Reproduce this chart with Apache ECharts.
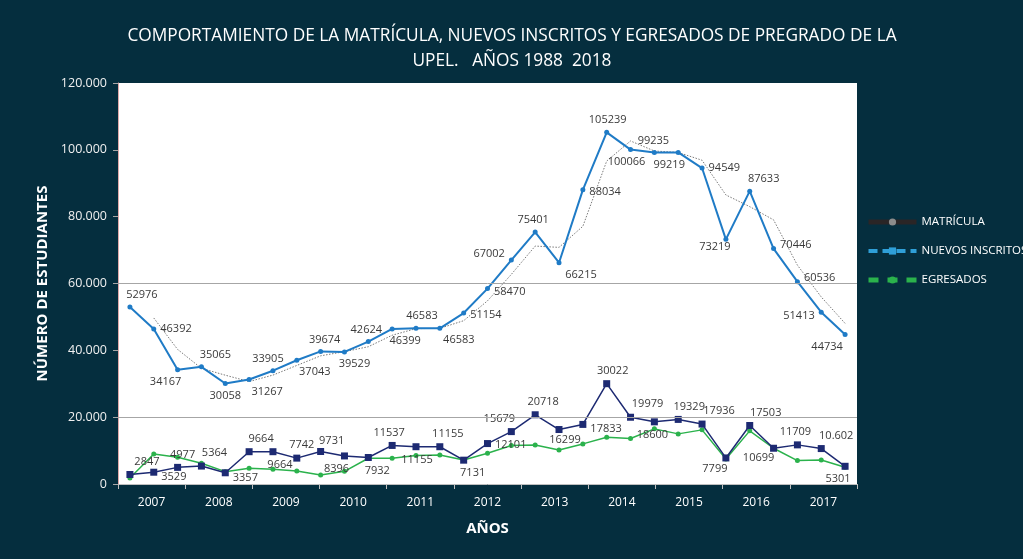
<!DOCTYPE html>
<html>
<head>
<meta charset="utf-8">
<script src="https://cdn.jsdelivr.net/npm/echarts@6/dist/echarts.min.js"></script>
<style>
  html, body { margin: 0; padding: 0; background: #052e3e; }
  #chart { width: 1023px; height: 559px; }
</style>
</head>
<body>
<div id="chart"></div>
<script>
// Years 1988 - 2018, one point per year
const years = ['1988','1989','1990','1991','1992','1993','1994','1995','1996','1997','1998','1999','2000','2001','2002','2003','2004','2005','2006','2007','2008','2009','2010','2011','2012','2013','2014','2015','2016','2017','2018'];
// Category labels shown under the axis
const axisYears = ['2007','2008','2009','2010','2011','2012','2013','2014','2015','2016','2017'];

const matricula = [52976,46392,34167,35065,30058,31267,33905,37043,39674,39529,42624,46399,46583,46583,51154,58470,67002,75401,66215,88034,105239,100066,99235,99219,94549,73219,87633,70446,60536,51413,44734];
const nuevosInscritos = [2847,3529,4977,5364,3357,9664,9664,7742,9731,8396,7932,11537,11155,11155,7131,12101,15679,20718,16299,17833,30022,19979,18600,19329,17936,7799,17503,10699,11709,10602,5301];
const egresados = [1800,9000,8000,6200,3700,4700,4400,3900,2700,3800,7700,7700,8500,8700,7200,9200,11500,11700,10200,12000,14000,13600,16500,15000,16200,7500,15900,10700,7000,7200,5000];
// Two-period moving average of the enrolment line
const tendencia = [null,49684,40280,34616,32562,30663,32586,35474,38359,39602,41077,44512,46491,46583,48869,54812,62736,71202,70808,77125,96637,102653,99651,99227,96884,86500,83000,79040,65491,55975,48074];
const yTicks = [0, 20000, 40000, 60000, 80000, 100000, 120000];
const refLines = [20000, 60000];

// Label placement: [position, dx, dy]
const matriculaLabelPos = [
  ['top',12,0],['right',0,0],['bottom',-12,0],['top',14,0],['bottom',0,0],['bottom',18,0],
  ['top',-5,0],['bottom',18,0],['top',4,0],['bottom',10,0],['top',-2,0],['bottom',13,0],
  ['top',6,0],['bottom',19,0],['right',0,2],['right',0,3],['left',0,-6],['top',-2,0],
  ['bottom',22,0],['right',0,2],['top',1,0],['bottom',-4,0],['top',-1,0],['bottom',-9,0],
  ['right',0,0],['bottom',-11,-4],['top',14,0],['right',0,-4],['right',0,-4],['left',0,4],['bottom',-18,0]
];
const nuevosLabelPos = [
  ['top',17,0],['right',0,5],['top',5,0],['top',13,0],['right',0,5],['top',12,0],
  ['bottom',7,0],['top',5,0],['top',11,2],['bottom',-8,0],['bottom',9,0],['top',-3,0],
  ['bottom',1,0],['top',8,0],['bottom',9,0],['right',0,1],['top',-12,0],['top',8,0],
  ['bottom',6,-3],['right',0,4],['top',6,0],['top',17,0],['bottom',-2,0],['top',11,0],
  ['top',17,0],['bottom',-11,-2],['top',16,0],['bottom',-15,-3],['top',-2,0],['top',15,0],['bottom',-7,0]
];
// Points whose label is written with a thousands separator
const dottedLabelIdx = [29];

const fontFamily = '"Open Sans", "Noto Sans", sans-serif';
const thousands = v => String(v).replace(/\B(?=(\d{3})+(?!\d))/g, '.');

function withLabels(values, placement, formatter) {
  return values.map((v, i) => ({
    value: v,
    label: {
      position: placement[i][0],
      offset: [placement[i][1], placement[i][2]],
      formatter: formatter ? formatter(v, i) : String(v)
    }
  }));
}

const labelStyle = {
  show: true,
  color: '#3a3a3a',
  fontSize: 11,
  fontFamily: fontFamily,
  distance: 4
};

const chart = echarts.init(document.getElementById('chart'), null, { renderer: 'canvas' });

chart.setOption({
  backgroundColor: '#052e3e',
  animation: false,
  title: {
    text: 'COMPORTAMIENTO DE LA MATRÍCULA, NUEVOS INSCRITOS Y EGRESADOS DE PREGRADO DE LA\nUPEL.   AÑOS 1988  2018',
    left: 507,
    top: 19,
    textAlign: 'center',
    textStyle: {
      color: '#ffffff',
      fontSize: 17.3,
      fontWeight: 'normal',
      fontFamily: fontFamily,
      lineHeight: 25
    }
  },
  legend: {
    orient: 'vertical',
    left: 866,
    top: 216,
    padding: 0,
    itemWidth: 48,
    itemHeight: 9,
    itemGap: 17,
    textStyle: { color: '#ffffff', fontSize: 11.5, fontFamily: fontFamily },
    data: [
      { name: 'MATRÍCULA', itemStyle: { color: '#8c8c8c' }, lineStyle: { color: '#2a2526', width: 5, type: 'solid' } },
      { name: 'NUEVOS INSCRITOS', itemStyle: { color: '#2f9fd8' }, lineStyle: { color: '#2f9fd8', width: 4, type: [9, 5] } },
      { name: 'EGRESADOS', itemStyle: { color: '#2bb24c' }, lineStyle: { color: '#2bb24c', width: 5, type: [10, 9] } }
    ]
  },
  grid: {
    left: 118,
    right: 166,
    top: 83,
    bottom: 75,
    show: true,
    backgroundColor: '#ffffff',
    borderWidth: 0
  },
  xAxis: [
    {
      type: 'category',
      data: years,
      position: 'bottom',
      boundaryGap: true,
      show: false
    },
    {
      type: 'category',
      data: axisYears,
      position: 'bottom',
      boundaryGap: true,
      name: 'AÑOS',
      nameLocation: 'middle',
      nameGap: 37,
      nameTextStyle: { color: '#ffffff', fontSize: 15, fontWeight: 'bold', fontFamily: fontFamily },
      axisLine: { show: true, lineStyle: { color: '#bfbfbf', width: 1 } },
      axisTick: { show: true, length: 5, interval: 0, lineStyle: { color: '#bfbfbf' } },
      axisLabel: { color: '#ffffff', fontSize: 12, fontFamily: fontFamily, margin: 13 },
      splitLine: { show: false }
    }
  ],
  yAxis: {
    type: 'value',
    min: 0,
    max: 120000,
    interval: 20000,
    name: 'NÚMERO DE ESTUDIANTES',
    nameLocation: 'middle',
    nameRotate: 90,
    nameGap: 68,
    nameTextStyle: { color: '#ffffff', fontSize: 15, fontWeight: 'bold', fontFamily: fontFamily },
    axisLine: { show: true, lineStyle: { color: '#e0a8a8', width: 1 } },
    axisTick: { show: true, length: 5, lineStyle: { color: '#a6a6a6' } },
    axisLabel: {
      color: '#f0f0f0',
      fontSize: 12.5,
      fontFamily: fontFamily,
      margin: 11,
      formatter: v => (yTicks.includes(v) ? thousands(v) : '')
    },
    splitLine: { show: false }
  },
  series: [
    {
      name: 'EGRESADOS',
      type: 'line',
      xAxisIndex: 0,
      data: egresados,
      symbol: 'circle',
      symbolSize: 5,
      itemStyle: { color: '#2bb24c' },
      lineStyle: { color: '#2bb24c', width: 1.5 },
      z: 2
    },
    {
      name: 'NUEVOS INSCRITOS',
      type: 'line',
      xAxisIndex: 0,
      data: withLabels(nuevosInscritos, nuevosLabelPos,
        (v, i) => (dottedLabelIdx.includes(i) ? thousands(v) : String(v))),
      symbol: 'rect',
      symbolSize: 7,
      itemStyle: { color: '#1d2a72' },
      lineStyle: { color: '#1d2a72', width: 1.5 },
      label: labelStyle,
      z: 3
    },
    {
      name: 'tendencia',
      type: 'line',
      xAxisIndex: 0,
      data: tendencia,
      symbol: 'none',
      lineStyle: { color: '#7a7a7a', width: 1, type: [1.5, 1.5] },
      z: 2,
      markLine: {
        silent: true,
        symbol: 'none',
        label: { show: false },
        lineStyle: { color: '#a6a6a6', width: 1, type: 'solid' },
        data: refLines.map(v => ({ yAxis: v }))
      }
    },
    {
      name: 'MATRÍCULA',
      type: 'line',
      xAxisIndex: 0,
      data: withLabels(matricula, matriculaLabelPos),
      symbol: 'circle',
      symbolSize: 5,
      itemStyle: { color: '#1f7bc6' },
      lineStyle: { color: '#1f7bc6', width: 2 },
      label: labelStyle,
      z: 4
    }
  ]
});
</script>
</body>
</html>
